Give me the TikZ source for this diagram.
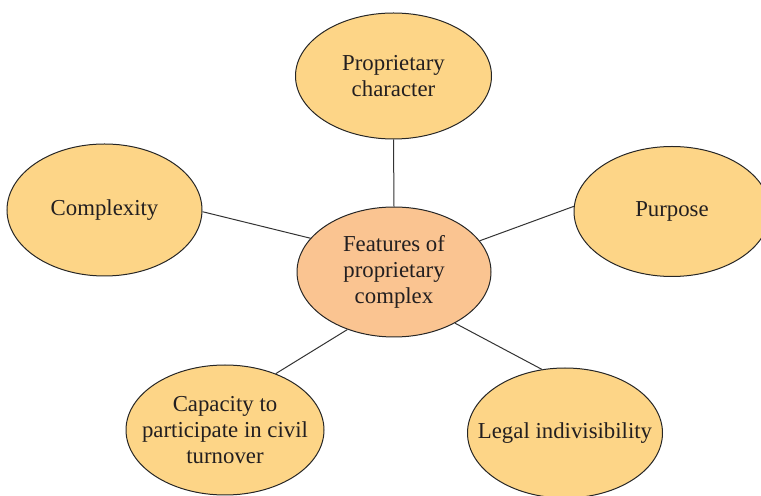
\documentclass[tikz,border=0pt]{standalone}
\usepackage{fontspec}
\setmainfont{Liberation Serif}
\usetikzlibrary{shapes.geometric}
\definecolor{featfill}{HTML}{FDD587}
\definecolor{hubfill}{HTML}{FAC491}
\definecolor{inktext}{HTML}{231F20}
\tikzset{
  feature/.style={ellipse, draw=black!85, fill=featfill, line width=0.5pt,
    minimum width=97pt, minimum height=64pt, inner xsep=-15pt, inner ysep=0pt,
    align=center, text=inktext, font=\fontsize{11.4}{12.9}\selectfont},
  hub/.style={feature, fill=hubfill},
  link/.style={draw=black!80, line width=0.5pt}
}
\begin{document}
\begin{tikzpicture}[x=0.5pt,y=-0.5pt]
  \useasboundingbox (0,0) rectangle (761,496);
  \node[hub, minimum width=97pt, minimum height=65pt] (hub) at (394,272) {Features of\\proprietary\\complex};
  \node[feature, minimum width=98pt, minimum height=63pt] (prop) at (393.5,76) {Proprietary\\character};
  \node[feature, minimum width=97.5pt, minimum height=66pt] (compl) at (104.5,210) {Complexity};
  \node[feature, minimum width=98pt, minimum height=65pt] (purp) at (672,211.5) {Purpose};
  \node[feature, minimum width=99pt, minimum height=65pt] (capac) at (225,430) {Capacity to\\participate in civil\\turnover};
  \node[feature, minimum width=97.5pt, minimum height=65pt] (legal) at (565,433) {Legal indivisibility};
  % connectors
  \draw[link] (prop.south) -- (hub.north);
  \draw[link] (compl.-1) -- (hub.158);
  \draw[link] (purp.177) -- (hub.20);
  \draw[link] (capac.48) -- (hub.231);
  \draw[link] (legal.110) -- (hub.320);
\end{tikzpicture}
\end{document}
